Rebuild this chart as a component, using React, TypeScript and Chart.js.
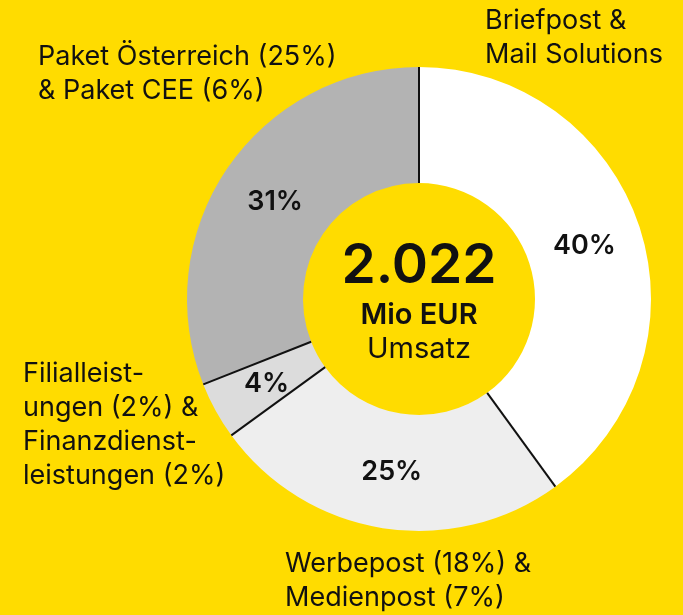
import React, { useEffect, useRef } from "react";
import { Chart, registerables } from "chart.js";

Chart.register(...registerables);

const categories = [
  "Briefpost & Mail Solutions",
  "Werbepost & Medienpost",
  "Filialleistungen & Finanzdienstleistungen",
  "Paket Österreich & Paket CEE",
];
const shares = [40, 25, 4, 31];
const sliceLabels = ["40%", "25%", "4%", "31%"];
const sliceColors = ["#FFFFFF", "#EEEEEE", "#DCDCDC", "#B3B3B3"];

const totalValue = "2.022";
const totalUnit = "Mio EUR";
const totalCaption = "Umsatz";

const outerLabels: { lines: string[]; x: number; y: number }[] = [
  { lines: ["Briefpost &", "Mail Solutions"], x: 485, y: 29 },
  { lines: ["Werbepost (18%) &", "Medienpost (7%)"], x: 285, y: 572 },
  { lines: ["Filialleist-", "ungen (2%) &", "Finanzdienst-", "leistungen (2%)"], x: 23, y: 382 },
  { lines: ["Paket Österreich (25%)", "& Paket CEE (6%)"], x: 38, y: 65 },
];

const YELLOW = "#FFDC00";
const INK = "#111111";
const FONT = "Inter, Roboto, sans-serif";

const overlayPlugin = {
  id: "overlay",
  afterDatasetsDraw(chart: any) {
    const ctx = chart.ctx as CanvasRenderingContext2D;
    const meta = chart.getDatasetMeta(0);
    ctx.save();
    // radial separators
    ctx.strokeStyle = INK;
    ctx.lineWidth = 2;
    meta.data.forEach((arc: any) => {
      const p = arc.getProps(["x", "y", "startAngle", "innerRadius", "outerRadius"], true);
      const c = Math.cos(p.startAngle);
      const s = Math.sin(p.startAngle);
      ctx.beginPath();
      ctx.moveTo(p.x + c * p.innerRadius, p.y + s * p.innerRadius);
      ctx.lineTo(p.x + c * p.outerRadius, p.y + s * p.outerRadius);
      ctx.stroke();
    });
    // slice labels
    ctx.fillStyle = INK;
    ctx.textAlign = "center";
    ctx.textBaseline = "middle";
    ctx.font = `600 27px ${FONT}`;
    meta.data.forEach((arc: any, i: number) => {
      const pos = arc.tooltipPosition();
      ctx.fillText(sliceLabels[i], pos.x, pos.y + 1);
    });
    // center text
    const first = meta.data[0].getProps(["x", "y"], true);
    const cx = first.x;
    const cy = first.y;
    ctx.textBaseline = "alphabetic";
    ctx.font = `600 55px ${FONT}`;
    ctx.fillText(totalValue, cx, cy - 16);
    ctx.font = `600 29px ${FONT}`;
    ctx.fillText(totalUnit, cx, cy + 25);
    ctx.font = `400 29px ${FONT}`;
    ctx.fillText(totalCaption, cx, cy + 59);
    // outer labels
    ctx.textAlign = "left";
    ctx.font = `400 27px ${FONT}`;
    outerLabels.forEach((lab) => {
      lab.lines.forEach((line, j) => {
        ctx.fillText(line, lab.x, lab.y + j * 34);
      });
    });
    ctx.restore();
  },
};

export default function App() {
  const canvasRef = useRef<HTMLCanvasElement | null>(null);

  useEffect(() => {
    document.body.style.margin = "0";
    document.body.style.background = YELLOW;
    const canvas = canvasRef.current;
    if (!canvas) return;
    const chart = new Chart(canvas, {
      type: "doughnut",
      data: {
        labels: categories,
        datasets: [
          {
            data: shares,
            backgroundColor: sliceColors,
            borderWidth: 0,
          },
        ],
      },
      options: {
        animation: false,
        responsive: false,
        cutout: "50%",
        rotation: 0,
        layout: { padding: { left: 187, right: 32, top: 67, bottom: 84 } },
        plugins: {
          legend: { display: false },
          tooltip: { enabled: false },
        },
      },
      plugins: [overlayPlugin],
    });
    return () => chart.destroy();
  }, []);

  return (
    <div style={{ width: 683, height: 615, background: YELLOW }}>
      <canvas ref={canvasRef} width={683} height={615} style={{ display: "block" }} />
    </div>
  );
}
